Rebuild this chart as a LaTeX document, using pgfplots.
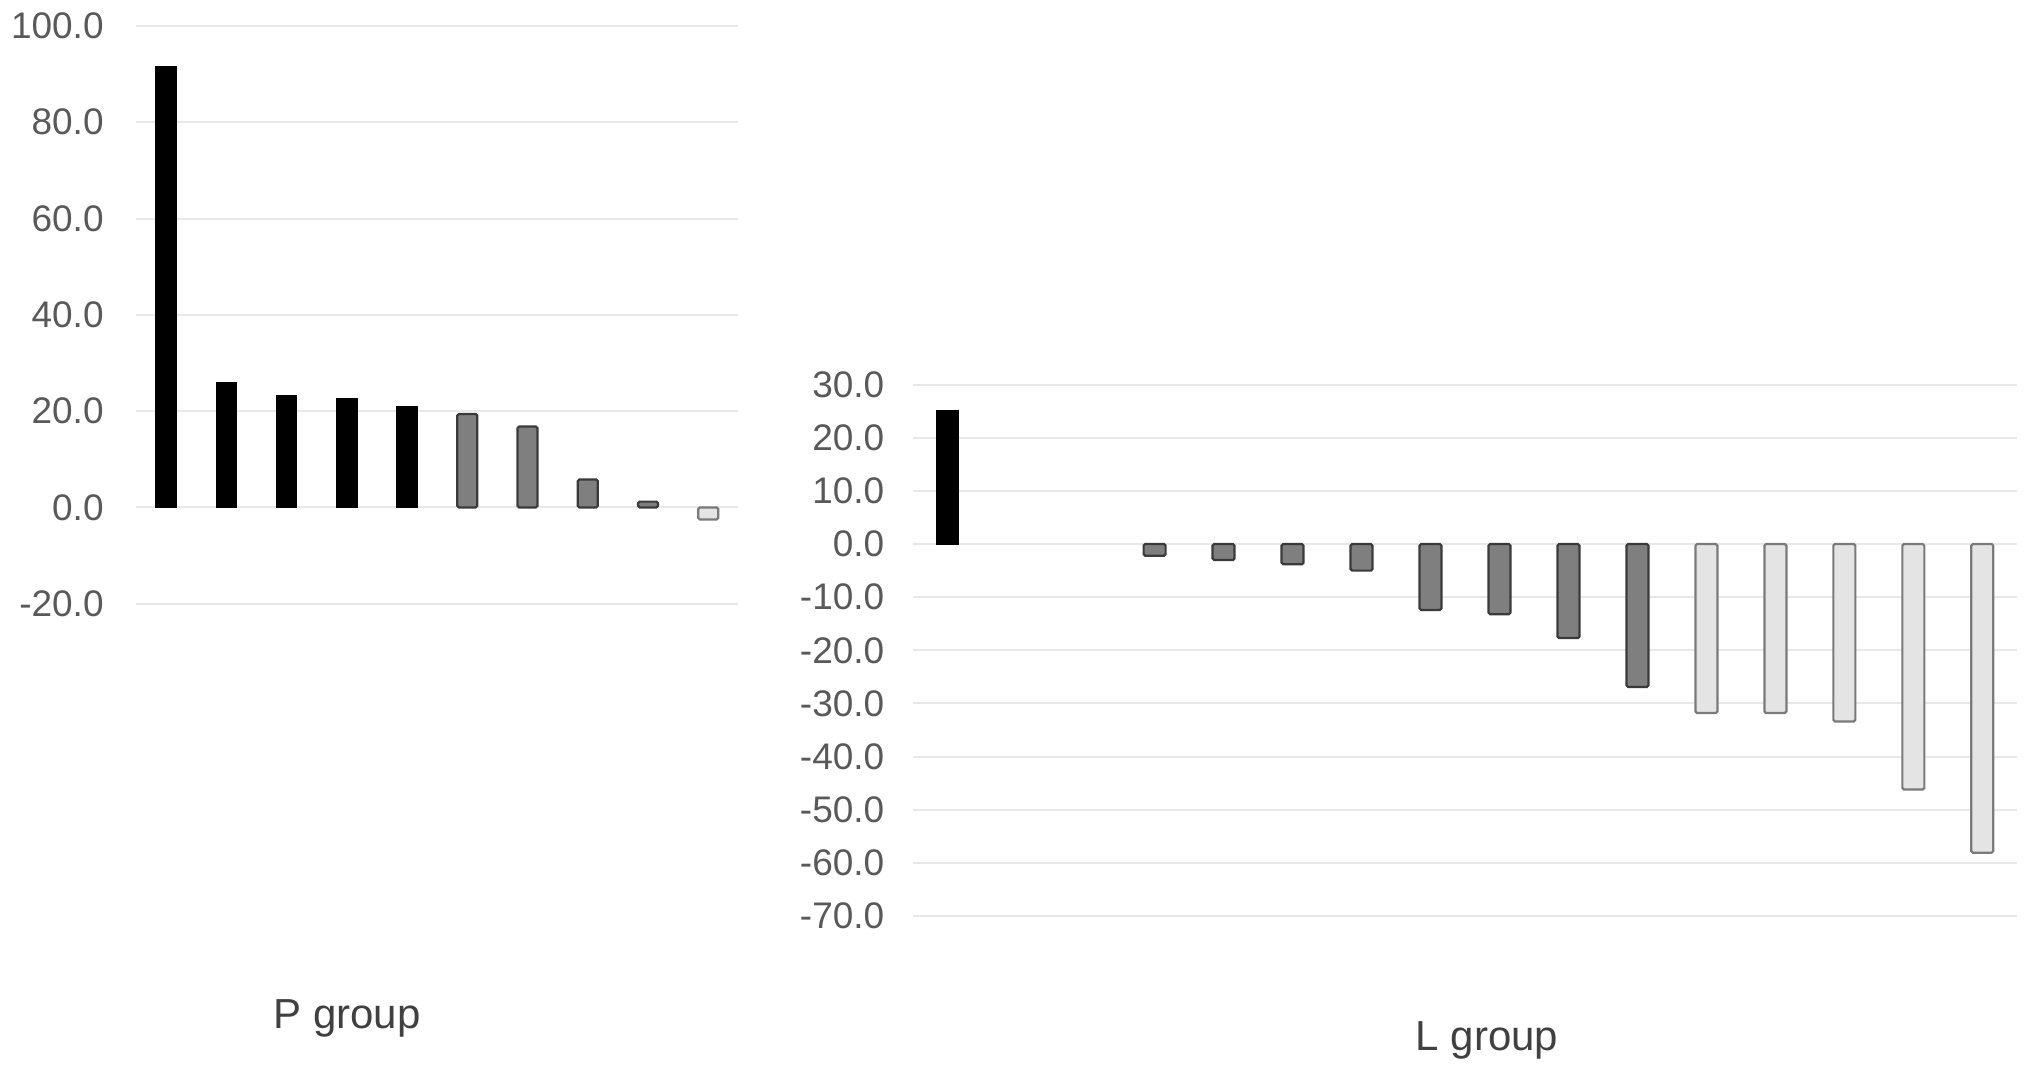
\documentclass[border=0pt]{standalone}
\usepackage{pgfplots}
\pgfplotsset{compat=1.18}
\usepackage{fontspec}
\setmainfont{Liberation Sans}
\definecolor{ticktext}{HTML}{595959}
\definecolor{titletext}{HTML}{404040}
\definecolor{gridc}{HTML}{E8E8E8}
\definecolor{midgray}{HTML}{7F7F7F}
\definecolor{midedge}{HTML}{3A3A3A}
\definecolor{lightfill}{HTML}{E4E4E4}
\definecolor{lightedge}{HTML}{7A7A7A}
\pgfplotsset{
  common/.style={
    scale only axis,
    axis line style={draw=none},
    tick style={draw=none},
    xtick=\empty,
    ymajorgrids,
    grid style={draw=gridc, line width=1pt},
    ybar, bar shift=0pt,
    xmin=-0.5,
    yticklabel style={anchor=east, inner sep=0pt, text=ticktext, font=\fontsize{18.5}{20}\selectfont},
    /pgf/number format/.cd, fixed, fixed zerofill, precision=1, assume math mode=true,
  },
}
\begin{document}
\begin{tikzpicture}
\path[use as bounding box] (0,0) rectangle (1015.5pt,-535.5pt);
% Left: P group
\begin{axis}[common,
  at={(68pt,-12.95pt)}, anchor=north west,
  width=301.2pt, height=288.9pt,
  xmax=9.5, ymin=-20, ymax=100, ytick={-20,0,20,40,60,80,100},
  yticklabel style={xshift=-16pt},
  bar width=10pt]
\addplot[fill=black, draw=black, line width=0.8pt] coordinates {(0,91.6) (1,25.8) (2,23.2) (3,22.6) (4,20.9)};
\addplot[fill=midgray, draw=midedge, line width=1.1pt, rounded corners=0.8pt] coordinates {(5,19.4) (6,16.8) (7,5.8) (8,1.2)};
\addplot[fill=lightfill, draw=lightedge, line width=1.1pt, rounded corners=0.8pt] coordinates {(9,-2.5)};
\end{axis}
% Right: L group
\begin{axis}[common,
  at={(456.6pt,-192.35pt)}, anchor=north west,
  width=551.8pt, height=265.6pt,
  xmax=15.5, ymin=-70, ymax=30, ytick={-70,-60,-50,-40,-30,-20,-10,0,10,20,30},
  yticklabel style={xshift=-14.25pt},
  bar width=11pt]
\addplot[fill=black, draw=black, line width=0.8pt] coordinates {(0,25.1)};
\addplot[fill=midgray, draw=midedge, line width=1.1pt, rounded corners=0.8pt] coordinates {(3,-2.2) (4,-3.0) (5,-3.8) (6,-5.0) (7,-12.4) (8,-13.2) (9,-17.7) (10,-26.9)};
\addplot[fill=lightfill, draw=lightedge, line width=1.1pt, rounded corners=0.8pt] coordinates {(11,-31.8) (12,-31.8) (13,-33.4) (14,-46.2) (15,-58.1)};
\end{axis}
\node[anchor=base, text=titletext, font=\fontsize{21}{24}\selectfont, inner sep=0pt] at (173.5pt,-514.3pt) {P group};
\node[anchor=base, text=titletext, font=\fontsize{21}{24}\selectfont, inner sep=0pt] at (743.5pt,-525.3pt) {L group};
\end{tikzpicture}
\end{document}
